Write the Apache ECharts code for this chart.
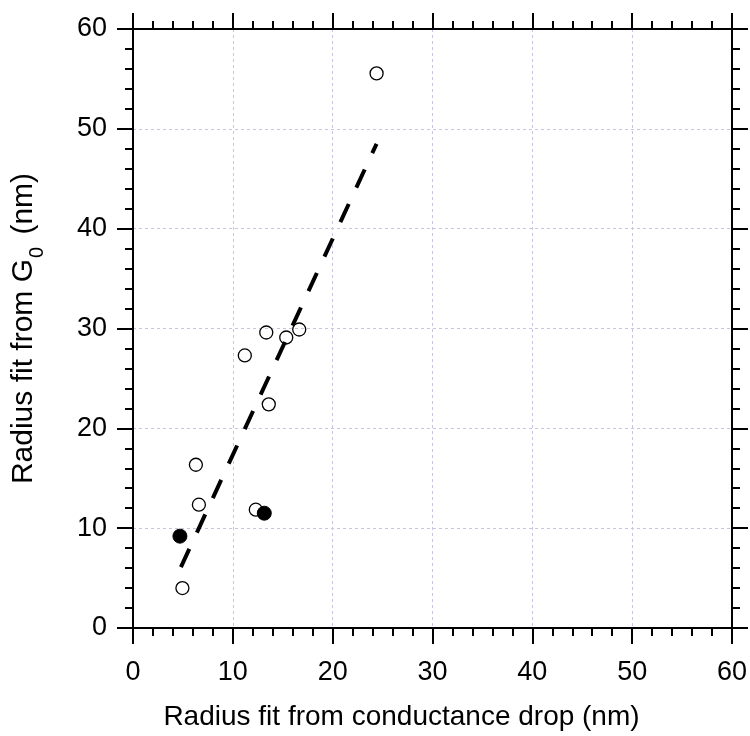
<!DOCTYPE html>
<html><head><meta charset="utf-8">
<script src="https://cdn.jsdelivr.net/npm/echarts@6/dist/echarts.min.js"></script>
<style>html,body{margin:0;padding:0;background:#fff}#c{width:750px;height:736px}</style>
</head><body><div id="c"></div>
<script>
const xTicks = [0, 10, 20, 30, 40, 50, 60];
const yTicks = [0, 10, 20, 30, 40, 50, 60];
const openX = [24.4, 16.65, 13.35, 15.35, 11.2, 13.6, 6.3, 6.6, 12.3, 4.95];
const openY = [55.55, 29.9, 29.6, 29.1, 27.3, 22.4, 16.35, 12.35, 11.85, 4.0];
const filledX = [13.15, 4.7];
const filledY = [11.5, 9.2];
const fitX = [4.8, 24.4];
const fitY = [6.1, 48.5];
const xTitle = 'Radius fit from conductance drop (nm)';
const yTitle = 'Radius fit from G{sub|0} (nm)';

const FONT = 'Liberation Sans, Arial, sans-serif';
const zip = (a, b) => a.map((v, i) => [v, b[i]]);

function mkAxis(pos, isX, main) {
  const ticks = isX ? xTicks : yTicks;
  const ax = {
    type: 'value', position: pos, min: ticks[0], max: ticks[ticks.length - 1], interval: ticks[1] - ticks[0],
    axisLine: { onZero: false, lineStyle: { color: '#000', width: 2 } },
    axisTick: { show: true, inside: false, length: 16, lineStyle: { color: '#000', width: 2 } },
    minorTick: { show: true, splitNumber: 5, length: 8, lineStyle: { color: '#000', width: 2 } },
    splitLine: { show: main, lineStyle: { color: '#c6c6e2', width: 1, type: [3, 3] } },
    axisLabel: { show: main, color: '#000', fontSize: 27, fontFamily: FONT, margin: isX ? 31 : 26 },
  };
  if (main) {
    ax.nameLocation = 'middle';
    if (isX) {
      ax.name = xTitle; ax.nameGap = 75;
      ax.nameTextStyle = { color: '#000', fontSize: 28, fontFamily: FONT, padding: [0, 62, 0, 0] };
    } else {
      ax.name = yTitle; ax.nameGap = 94; ax.nameRotate = 90;
      ax.nameTextStyle = { color: '#000', fontSize: 30, fontFamily: FONT,
        rich: { sub: { fontSize: 20, fontFamily: FONT, color: '#000', verticalAlign: 'bottom', padding: [0, 4, -8, 1] } } };
    }
  }
  return ax;
}

const chart = echarts.init(document.getElementById('c'), null, { renderer: 'canvas' });
chart.setOption({
  animation: false,
  backgroundColor: '#fff',
  grid: { left: 133, top: 29, width: 600, height: 600, containLabel: false },
  xAxis: [mkAxis('bottom', true, true), mkAxis('top', true, false)],
  yAxis: [mkAxis('left', false, true), mkAxis('right', false, false)],
  series: [
    { type: 'line', data: zip(fitX, fitY), symbol: 'none', z: 3,
      lineStyle: { color: '#000', width: 4, type: [20, 18] } },
    { type: 'scatter', data: zip(openX, openY), symbol: 'circle', symbolSize: 13, z: 4,
      itemStyle: { color: 'rgba(255,255,255,0)', borderColor: '#000', borderWidth: 1.3, opacity: 1 } },
    { type: 'scatter', data: zip(filledX, filledY), symbol: 'circle', symbolSize: 14, z: 4,
      itemStyle: { color: '#000', borderColor: '#000', borderWidth: 1, opacity: 1 } }
  ]
});
</script></body></html>
